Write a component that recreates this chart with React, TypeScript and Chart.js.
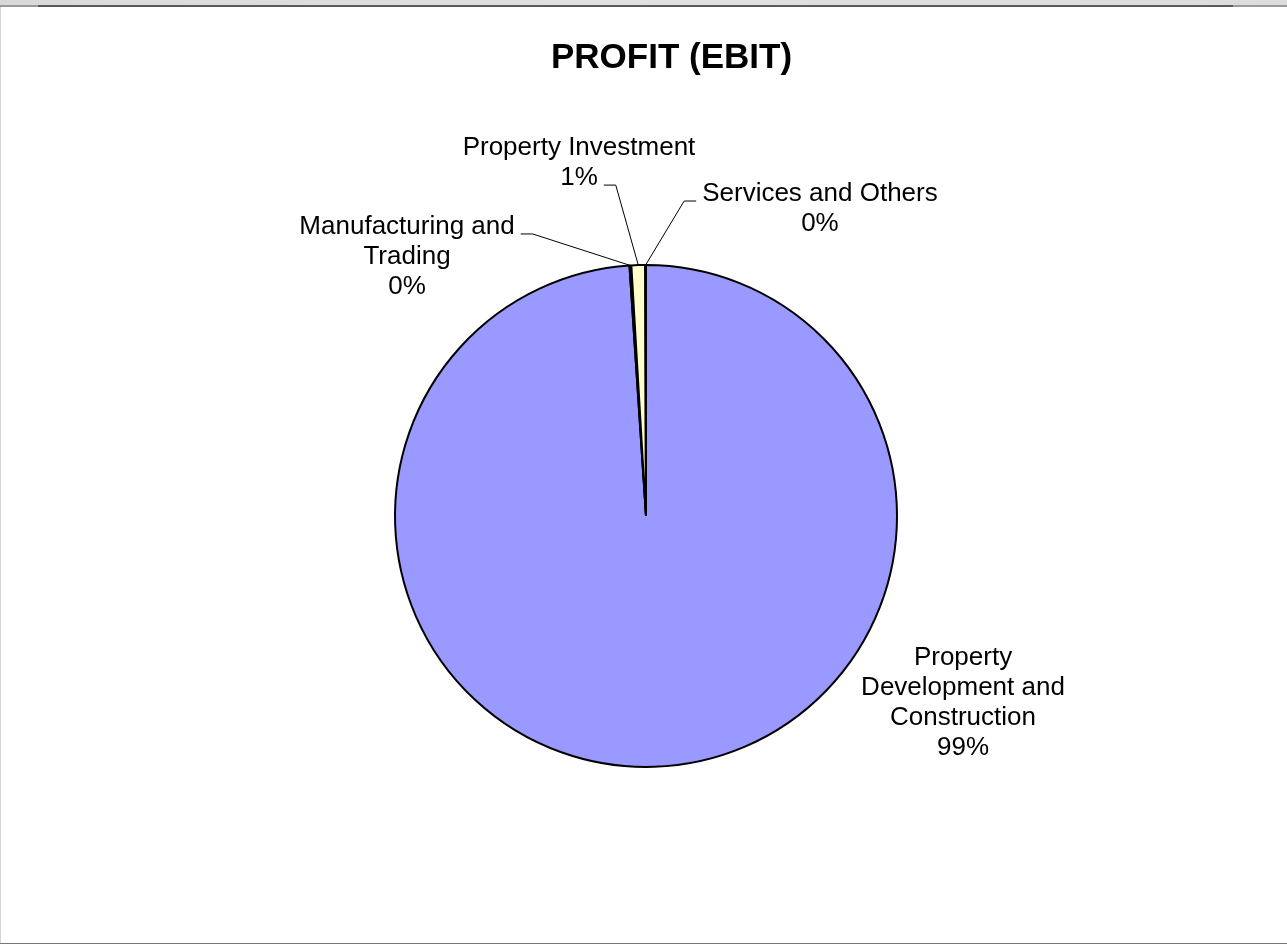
import { useEffect, useRef } from "react";
import { Chart, registerables } from "chart.js";

Chart.register(...registerables);

const title = "PROFIT (EBIT)";
const categories = [
  "Property Development and Construction",
  "Manufacturing and Trading",
  "Property Investment",
  "Services and Others",
];
const shares = [98.95, 0.12, 0.88, 0.05];
const colors = ["#9999FF", "#993366", "#FFFFCC", "#CCFFFF"];

// label block centre relative to pie centre, in radii; leader attaches to a line's edge
const labelPlacement = [
  { dx: 1.263, dy: 0.745, leader: null as null | { line: number; side: string } },
  { dx: -0.952, dy: -1.032, leader: { line: 0, side: "right" } },
  { dx: -0.267, dy: -1.406, leader: { line: 1, side: "right" } },
  { dx: 0.693, dy: -1.223, leader: { line: 0, side: "left" } },
];

const FONT = "26px 'Liberation Sans', Arial, sans-serif";
const TITLE_FONT = "bold 35px 'Liberation Sans', Arial, sans-serif";
const LINE_H = 30;
const WRAP = 240;

function wrap(ctx: CanvasRenderingContext2D, text: string, max: number) {
  const words = text.split(" ");
  const lines: string[] = [];
  let cur = "";
  for (const w of words) {
    const t = cur ? cur + " " + w : w;
    if (cur && ctx.measureText(t).width > max) {
      lines.push(cur);
      cur = w;
    } else cur = t;
  }
  if (cur) lines.push(cur);
  return lines;
}

const titlePlugin = {
  id: "centeredTitle",
  afterDraw(chart: any) {
    const ctx: CanvasRenderingContext2D = chart.ctx;
    ctx.save();
    ctx.font = TITLE_FONT;
    ctx.fillStyle = "#000";
    ctx.textAlign = "center";
    ctx.textBaseline = "middle";
    ctx.fillText(title, chart.width / 2, 51);
    ctx.restore();
  },
};

const labelPlugin = {
  id: "pieLabels",
  afterDatasetsDraw(chart: any) {
    const ctx: CanvasRenderingContext2D = chart.ctx;
    const meta = chart.getDatasetMeta(0);
    const data: number[] = chart.data.datasets[0].data;
    const total = data.reduce((a, b) => a + b, 0);
    ctx.save();
    ctx.font = FONT;
    ctx.fillStyle = "#000";
    ctx.textAlign = "center";
    ctx.textBaseline = "middle";
    meta.data.forEach((arc: any, i: number) => {
      const p = arc.getProps(["x", "y", "startAngle", "endAngle", "outerRadius"], true);
      const r = p.outerRadius;
      const pl = labelPlacement[i];
      const cx = p.x + pl.dx * r;
      const cy = p.y + pl.dy * r;
      const lines = wrap(ctx, String(chart.data.labels[i]), WRAP);
      lines.push(Math.round((data[i] / total) * 100) + "%");
      const n = lines.length;
      lines.forEach((ln, k) => {
        ctx.fillText(ln, cx, cy + (k - (n - 1) / 2) * LINE_H);
      });
      if (pl.leader) {
        const k = pl.leader.line;
        const w = ctx.measureText(lines[k]).width;
        const ly = cy + (k - (n - 1) / 2) * LINE_H + 7;
        const dir = pl.leader.side === "right" ? 1 : -1;
        const x0 = cx + dir * (w / 2 + 6);
        const x1 = x0 + dir * 12;
        const mid = (p.startAngle + p.endAngle) / 2;
        const ex = p.x + Math.cos(mid) * r;
        const ey = p.y + Math.sin(mid) * r;
        ctx.beginPath();
        ctx.strokeStyle = "#000";
        ctx.lineWidth = 1;
        ctx.moveTo(x0, ly);
        ctx.lineTo(x1, ly);
        ctx.lineTo(ex, ey);
        ctx.stroke();
      }
    });
    ctx.restore();
  },
};

export default function App() {
  const ref = useRef<HTMLCanvasElement>(null);
  useEffect(() => {
    const chart = new Chart(ref.current!, {
      type: "pie",
      data: {
        labels: categories,
        datasets: [
          {
            data: shares,
            backgroundColor: colors,
            borderColor: "#000",
            borderWidth: 2,
            radius: 251,
          } as any,
        ],
      },
      options: {
        animation: false,
        responsive: false,
        devicePixelRatio: 1,
        layout: { padding: { left: 0, right: 51, top: 82, bottom: 0 } },
        plugins: {
          legend: { display: false },
          tooltip: { enabled: false },
          title: { display: false },
        },
      },
      plugins: [labelPlugin, titlePlugin],
    });
    return () => chart.destroy();
  }, []);

  return (
    <div style={{ position: "fixed", left: 0, top: 0, width: 1287, height: 944, background: "#fff", overflow: "hidden" }}>
      <div style={{ position: "absolute", left: 0, top: 0, width: 1287, height: 5, background: "linear-gradient(to right, #d6dada, #dfe2e2 50%, #dcdcdc)" }} />
      <div style={{ position: "absolute", left: 0, top: 5, width: 1287, height: 2, background: "#9a9a9a" }} />
      <div style={{ position: "absolute", left: 38, top: 5, width: 1195, height: 2, background: "#5a5a5a" }} />
      <div style={{ position: "absolute", left: 0, top: 7, width: 1, height: 936, background: "#d4d4d4" }} />
      <div style={{ position: "absolute", left: 0, top: 943, width: 1287, height: 1, background: "#777" }} />
      <canvas ref={ref} width={1231} height={936} style={{ position: "absolute", left: 56, top: 7, width: 1231, height: 936 }} />
    </div>
  );
}
